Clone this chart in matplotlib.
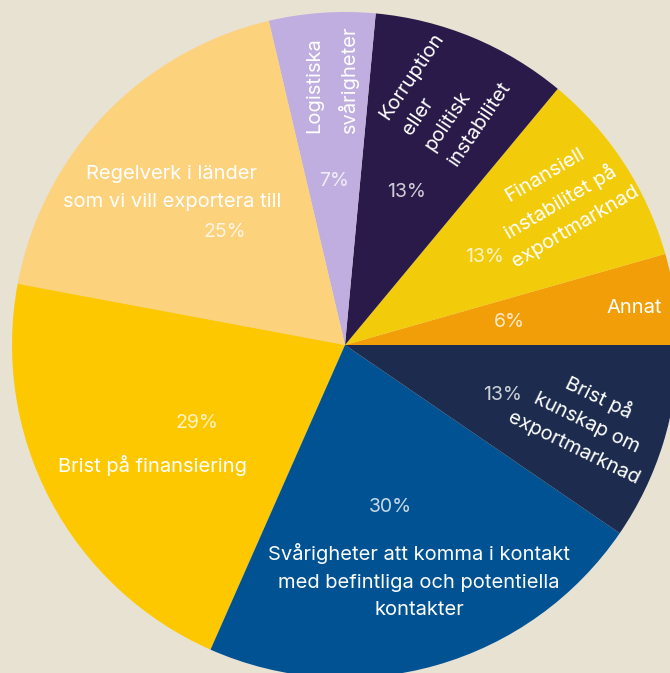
import matplotlib.pyplot as plt

# data (counter-clockwise from 3 o'clock)
categories = [
    "Annat",
    "Finansiell\ninstabilitet på\nexportmarknad",
    "Korruption\neller\npolitisk\ninstabilitet",
    "Logistiska\nsvårigheter",
    "Regelverk i länder\nsom vi vill exportera till",
    "Brist på finansiering",
    "Svårigheter att komma i kontakt\nmed befintliga och potentiella\nkontakter",
    "Brist på\nkunskap om\nexportmarknad",
]
values = [6, 13, 13, 7, 25, 29, 30, 13]

colors = ["#f29e08", "#f2cb0a", "#2a1a49", "#bfaedf", "#fdd27d",
          "#fdc800", "#005293", "#1d2c4e"]
bg = "#e8e2d3"

# label layout in image pixels (x, y from top), rotation, alignment
label_pos = [(634, 308), (560, 201), (418, 141), (332, 79), (172, 188),
             (153, 466), (419, 581), (587, 422)]
label_rot = [0, 30.5, 56, 90, 0, 0, 0, -26]
label_ha = ["center", "center", "left", "center", "center", "center", "center", "center"]
label_ma = ["center", "center", "left", "left", "center", "center", "center", "center"]
label_ls = [1.7, 1.7, 1.7, 1.85, 1.7, 1.7, 1.7, 1.7]
pct_pos = [(509, 322), (484, 257), (407, 192), (334, 181), (225, 232),
           (197, 423), (390, 507), (502, 395)]

W, H = 670, 673
fig = plt.figure(figsize=(W / 100, H / 100), dpi=100)
fig.patch.set_facecolor(bg)
ax = fig.add_axes([0, 0, 1, 1])
ax.set_facecolor(bg)

ax.pie(values, colors=colors, startangle=0, counterclock=True,
       center=(345, H - 345), radius=333,
       wedgeprops=dict(linewidth=0))
ax.set_xlim(0, W)
ax.set_ylim(0, H)
ax.set_aspect("equal")
ax.axis("off")

font = "Inter"
for i, lab in enumerate(categories):
    x, y = label_pos[i]
    ax.text(x, H - y, lab, color="white", fontsize=14.5, family=font,
            rotation=label_rot[i], rotation_mode="anchor",
            ha=label_ha[i], va="center", multialignment=label_ma[i],
            linespacing=label_ls[i])
    px, py = pct_pos[i]
    ax.text(px, H - py, f"{values[i]}%", color="white", alpha=0.78,
            fontsize=14, family=font, ha="center", va="center")

fig.savefig("out.png", dpi=100, facecolor=bg)
